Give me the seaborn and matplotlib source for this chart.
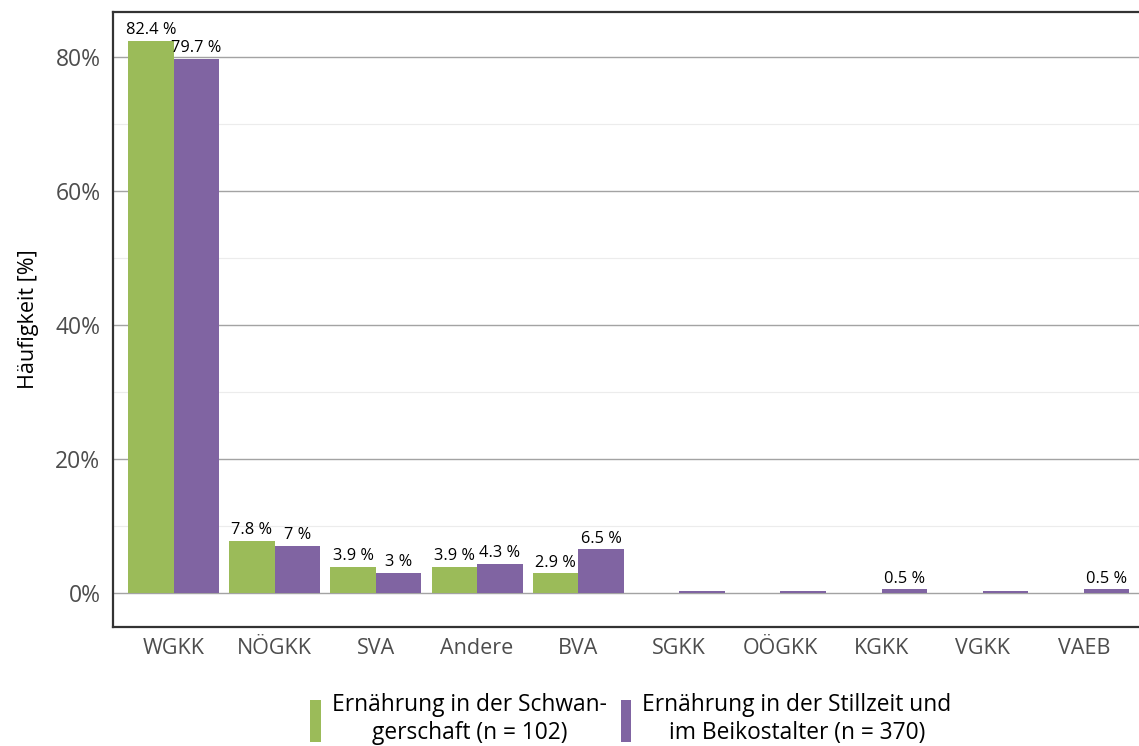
import pandas as pd
import matplotlib.pyplot as plt
import seaborn as sns
from matplotlib.patches import Patch
from matplotlib.ticker import MultipleLocator, FuncFormatter

# Data
kassen = ["WGKK", "NÖGKK", "SVA", "Andere", "BVA", "SGKK", "OÖGKK", "KGKK", "VGKK", "VAEB"]
schwanger = [82.4, 7.8, 3.9, 3.9, 2.9, 0, 0, 0, 0, 0]
stillzeit = [79.7, 7.0, 3.0, 4.3, 6.5, 0.3, 0.3, 0.5, 0.3, 0.5]
labels_schwanger = ["82.4 %", "7.8 %", "3.9 %", "3.9 %", "2.9 %", "", "", "", "", ""]
labels_stillzeit = ["79.7 %", "7 %", "3 %", "4.3 %", "6.5 %", "", "", "0.5 %", "", "0.5 %"]
gruppen = ["Ernährung in der Schwan-\ngerschaft (n = 102)",
           "Ernährung in der Stillzeit und\nim Beikostalter (n = 370)"]
farben = ["#9BBB59", "#8064A2"]

df = pd.DataFrame({
    "Kasse": kassen * 2,
    "Wert": schwanger + stillzeit,
    "Gruppe": [gruppen[0]] * len(kassen) + [gruppen[1]] * len(kassen),
})

sns.set_style("white")
plt.rcParams["font.family"] = ["Open Sans", "DejaVu Sans"]

fig = plt.figure(figsize=(11.39, 7.46), dpi=100)
ax = fig.add_axes([0.0992, 0.1595, 0.9057, 0.8244])

sns.barplot(data=df, x="Kasse", y="Wert", hue="Gruppe", hue_order=gruppen,
            palette=farben, width=0.9, saturation=1, legend=False,
            linewidth=0, edgecolor="none", ax=ax)

# grid
ax.yaxis.set_major_locator(MultipleLocator(20))
ax.yaxis.set_minor_locator(MultipleLocator(10))
ax.yaxis.set_major_formatter(FuncFormatter(lambda v, p: f"{v:.0f}%"))
ax.grid(axis="y", which="major", color="#a3a3a3", linewidth=1)
ax.grid(axis="y", which="minor", color="#ececec", linewidth=0.8)
ax.set_axisbelow(True)

ax.set_xlim(-0.6, 9.6)
ax.set_ylim(-5.1, 86.7)

for s in ["left", "bottom", "top"]:
    ax.spines[s].set_color("#333333")
    ax.spines[s].set_linewidth(1.6)
ax.spines["right"].set_visible(False)

ax.tick_params(axis="both", which="major", length=5, width=1.6, color="#333333")
ax.tick_params(axis="y", which="minor", length=0)
ax.tick_params(axis="y", labelsize=16.5, labelcolor="#4d4d4d", pad=4)
ax.tick_params(axis="x", labelsize=15.5, labelcolor="#4d4d4d", pad=3)

ax.set_xlabel("")
ax.set_ylabel("Häufigkeit [%]", fontsize=15.5, color="black", labelpad=12)

ax.bar_label(ax.containers[0], labels=labels_schwanger, fontsize=11.8, padding=2, color="black")
ax.bar_label(ax.containers[1], labels=labels_stillzeit, fontsize=11.8, padding=2, color="black")

handles = [Patch(facecolor=c, edgecolor="none") for c in farben]
leg = fig.legend(handles, gruppen, loc="center", bbox_to_anchor=(0.554, 0.036),
                 ncol=2, frameon=False, fontsize=16.4, handlelength=0.45,
                 handleheight=2.5, handletextpad=0.5, columnspacing=0.6)
for t in leg.get_texts():
    t.set_multialignment("center")
    t.set_color("black")

fig.savefig("out.png", dpi=100)
